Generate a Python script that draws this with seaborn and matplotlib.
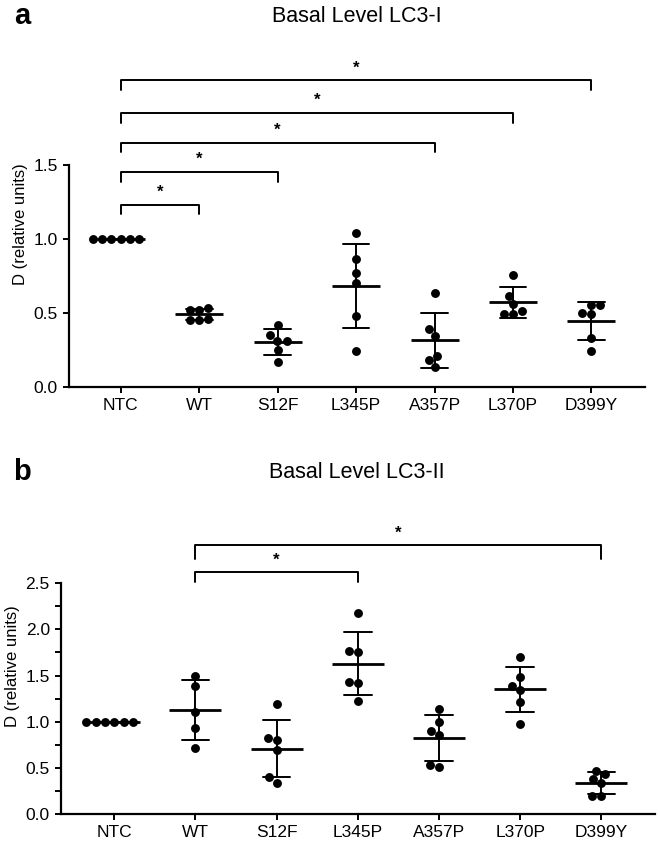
import matplotlib
matplotlib.use("Agg")
import matplotlib.pyplot as plt
import matplotlib.ticker as mticker
import numpy as np
import pandas as pd
import seaborn as sns

# groups on the x axis
groups = ["NTC", "WT", "S12F", "L345P", "A357P", "L370P", "D399Y"]

# panel a: basal LC3-I, single replicates
lc3i_ntc = [1.0, 1.0, 1.0, 1.0, 1.0, 1.0]
lc3i_wt = [0.53, 0.52, 0.52, 0.45, 0.45, 0.46]
lc3i_s12f = [0.42, 0.35, 0.31, 0.31, 0.25, 0.17]
lc3i_l345p = [1.04, 0.86, 0.77, 0.70, 0.48, 0.24]
lc3i_a357p = [0.63, 0.39, 0.34, 0.21, 0.18, 0.13]
lc3i_l370p = [0.755, 0.615, 0.56, 0.51, 0.49, 0.49]
lc3i_d399y = [0.55, 0.55, 0.50, 0.49, 0.33, 0.24]

# panel b: basal LC3-II
lc3ii_ntc = [1.0, 1.0, 1.0, 1.0, 1.0, 1.0]
lc3ii_wt = [1.50, 1.39, 1.10, 0.93, 0.71]
lc3ii_s12f = [1.19, 0.82, 0.80, 0.69, 0.40, 0.34]
lc3ii_l345p = [2.18, 1.77, 1.75, 1.43, 1.42, 1.22]
lc3ii_a357p = [1.14, 1.00, 0.90, 0.86, 0.53, 0.51]
lc3ii_l370p = [1.70, 1.48, 1.39, 1.34, 1.21, 0.98]
lc3ii_d399y = [0.47, 0.43, 0.38, 0.34, 0.19, 0.19]

# significance brackets (pairs and bracket heights)
a_pairs = [("NTC", "WT"), ("NTC", "S12F"), ("NTC", "A357P"),
           ("NTC", "L370P"), ("NTC", "D399Y")]
a_heights = [1.23, 1.45, 1.65, 1.85, 2.07]
b_pairs = [("WT", "L345P"), ("WT", "D399Y")]
b_heights = [2.62, 2.91]

a_yticks = [0, 0.5, 1.0, 1.5]
b_yticks = [0, 0.5, 1.0, 1.5, 2.0, 2.5]
b_minor = [0.25, 0.75, 1.25, 1.75, 2.25]


def to_frame(values):
    rows = []
    for g, vals in zip(groups, values):
        for v in vals:
            rows.append({"group": g, "value": v})
    return pd.DataFrame(rows)


df_a = to_frame([lc3i_ntc, lc3i_wt, lc3i_s12f, lc3i_l345p,
                 lc3i_a357p, lc3i_l370p, lc3i_d399y])
df_b = to_frame([lc3ii_ntc, lc3ii_wt, lc3ii_s12f, lc3ii_l345p,
                 lc3ii_a357p, lc3ii_l370p, lc3ii_d399y])

sns.set_style("ticks")
plt.rcParams["font.family"] = ["Liberation Sans", "DejaVu Sans"]
plt.rcParams.update({
    "text.color": "black",
    "axes.labelcolor": "black",
    "xtick.color": "black",
    "ytick.color": "black",
    "axes.edgecolor": "black",
})

fig = plt.figure(figsize=(6.6, 8.43), dpi=100)
ax_a = fig.add_axes([0.1045, 0.5413, 0.8725, 0.3862])
ax_b = fig.add_axes([0.0924, 0.0344, 0.8996, 0.3504])


def draw_panel(ax, df, ymax, ytop, mean_size, pairs, heights, drops):
    sns.pointplot(data=df, x="group", y="value", order=groups,
                  errorbar="sd", capsize=0.34, color="black",
                  linestyle="none", marker="_", markersize=mean_size,
                  markeredgewidth=2.0, err_kws={"linewidth": 1.4},
                  ax=ax)
    sns.swarmplot(data=df, x="group", y="value", order=groups,
                  color="black", size=6.4, ax=ax)

    for (g1, g2), h, d in zip(pairs, heights, drops):
        x1, x2 = groups.index(g1), groups.index(g2)
        ax.plot([x1, x1, x2, x2], [h - d, h, h, h - d], color="black",
                lw=1.4, clip_on=False)
        ax.annotate("*", xy=((x1 + x2) / 2, h), xytext=(0, 3.5),
                    textcoords="offset points", ha="center", va="bottom",
                    fontsize=12, fontweight="bold")

    ax.set_ylim(0, ytop)
    ax.set_xlabel("")
    ax.set_ylabel("D (relative units)", fontsize=12)
    ax.spines["top"].set_visible(False)
    ax.spines["right"].set_visible(False)
    ax.spines["left"].set_bounds(0, ymax)
    for s in ["left", "bottom"]:
        ax.spines[s].set_linewidth(1.6)
    ax.tick_params(axis="both", length=4.5, width=1.4, labelsize=12.5)
    ax.yaxis.set_major_formatter(mticker.FormatStrFormatter("%.1f"))


draw_panel(ax_a, df_a, 1.5, 2.2, 34, a_pairs, a_heights,
           [0.065] * len(a_pairs))
ax_a.set_xlim(-0.66, 6.68)
ax_a.set_yticks(a_yticks)

draw_panel(ax_b, df_b, 2.5, 3.2, 38, b_pairs, b_heights, [0.11, 0.15])
ax_b.set_xlim(-0.656, 6.656)
ax_b.set_yticks(b_yticks)
ax_b.yaxis.set_minor_locator(mticker.FixedLocator(b_minor))
ax_b.tick_params(axis="y", which="minor", length=4.5, width=1.4)

fig.text(357 / 660, 1 - 16 / 843, "Basal Level LC3-I", ha="center",
         va="center", fontsize=15.5)
fig.text(22 / 660, 1 - 16 / 843, "a", ha="center", va="center",
         fontsize=21, fontweight="bold")
fig.text(357 / 660, 1 - 472 / 843, "Basal Level LC3-II", ha="center",
         va="center", fontsize=15.5)
fig.text(22 / 660, 1 - 472 / 843, "b", ha="center", va="center",
         fontsize=21, fontweight="bold")

fig.savefig("out.png", dpi=100)
